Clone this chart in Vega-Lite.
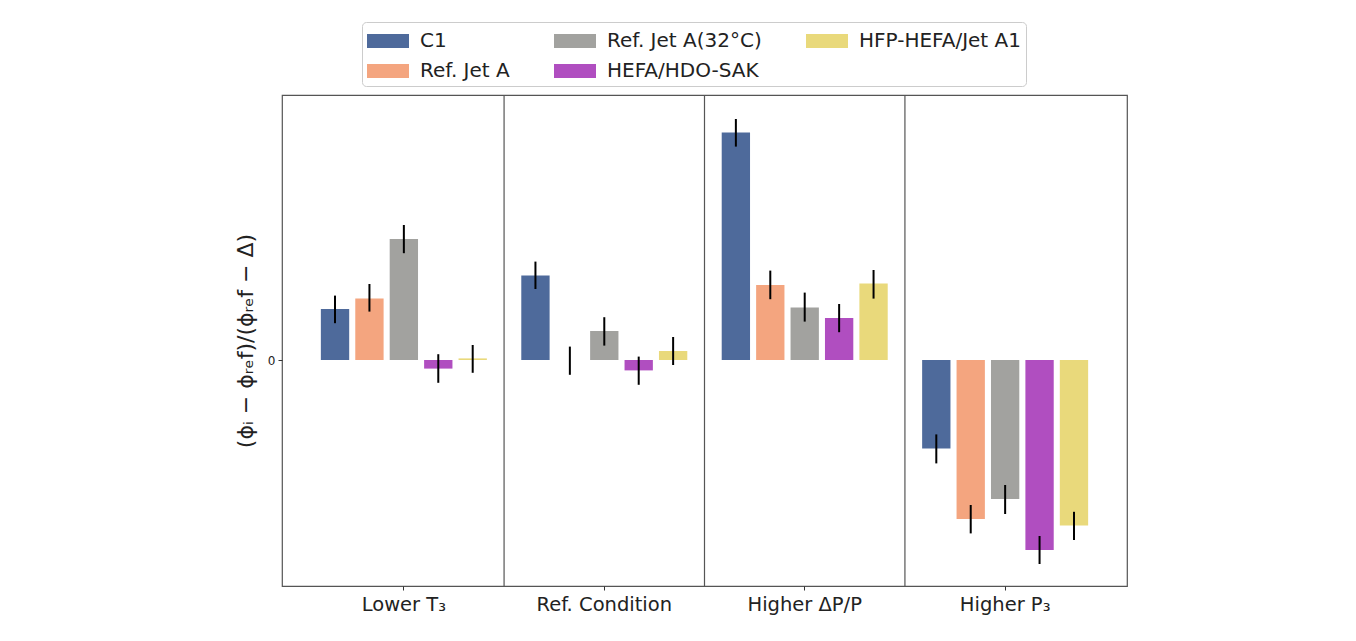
{
  "$schema": "https://vega.github.io/schema/vega-lite/v6.json",
  "autosize": {"type": "none"},
  "padding": {"left": 282, "top": 95, "right": 229, "bottom": 55},
  "width": 845,
  "height": 491,
  "background": "white",
  "config": {
    "font": "DejaVu Sans",
    "view": {"stroke": "#555555", "strokeWidth": 1.2},
    "axis": {"grid": false, "domain": false, "labelColor": "#222222", "titleColor": "#222222", "tickColor": "#333333"}
  },
  "data": {
    "values": [
      {"group": "Lower T₃", "series": "C1", "value": 0.255, "lo": 0.184, "hi": 0.322},
      {"group": "Lower T₃", "series": "Ref. Jet A", "value": 0.308, "lo": 0.242, "hi": 0.38},
      {"group": "Lower T₃", "series": "Ref. Jet A(32°C)", "value": 0.605, "lo": 0.534, "hi": 0.675},
      {"group": "Lower T₃", "series": "HEFA/HDO-SAK", "value": -0.043, "lo": -0.114, "hi": 0.029},
      {"group": "Lower T₃", "series": "HFP-HEFA/Jet A1", "value": 0.008, "lo": -0.064, "hi": 0.075},
      {"group": "Ref. Condition", "series": "C1", "value": 0.423, "lo": 0.355, "hi": 0.492},
      {"group": "Ref. Condition", "series": "Ref. Jet A", "value": 0.0, "lo": -0.074, "hi": 0.067},
      {"group": "Ref. Condition", "series": "Ref. Jet A(32°C)", "value": 0.145, "lo": 0.072, "hi": 0.214},
      {"group": "Ref. Condition", "series": "HEFA/HDO-SAK", "value": -0.052, "lo": -0.124, "hi": 0.017},
      {"group": "Ref. Condition", "series": "HFP-HEFA/Jet A1", "value": 0.045, "lo": -0.025, "hi": 0.115},
      {"group": "Higher ΔP/P", "series": "C1", "value": 1.138, "lo": 1.067, "hi": 1.205},
      {"group": "Higher ΔP/P", "series": "Ref. Jet A", "value": 0.375, "lo": 0.304, "hi": 0.447},
      {"group": "Higher ΔP/P", "series": "Ref. Jet A(32°C)", "value": 0.263, "lo": 0.192, "hi": 0.337},
      {"group": "Higher ΔP/P", "series": "HEFA/HDO-SAK", "value": 0.21, "lo": 0.139, "hi": 0.28},
      {"group": "Higher ΔP/P", "series": "HFP-HEFA/Jet A1", "value": 0.382, "lo": 0.307, "hi": 0.45},
      {"group": "Higher P₃", "series": "C1", "value": -0.442, "lo": -0.517, "hi": -0.372},
      {"group": "Higher P₃", "series": "Ref. Jet A", "value": -0.795, "lo": -0.867, "hi": -0.725},
      {"group": "Higher P₃", "series": "Ref. Jet A(32°C)", "value": -0.695, "lo": -0.77, "hi": -0.625},
      {"group": "Higher P₃", "series": "HEFA/HDO-SAK", "value": -0.95, "lo": -1.02, "hi": -0.88},
      {"group": "Higher P₃", "series": "HFP-HEFA/Jet A1", "value": -0.827, "lo": -0.9, "hi": -0.759}
    ]
  },
  "encoding": {
    "x": {
      "field": "group", "type": "nominal",
      "scale": {"domain": ["Lower T₃", "Ref. Condition", "Higher ΔP/P", "Higher P₃"], "paddingInner": 0, "paddingOuter": 0.108},
      "axis": {"title": null, "labelAngle": 0, "labelFontSize": 19.5, "labelPadding": 5, "tickSize": 4, "tickWidth": 1}
    }
  },
  "layer": [
    {
      "transform": [
        {"filter": "datum.series == 'C1' && datum.group != 'Higher P₃'"}
      ],
      "mark": {"type": "rule", "color": "#555555", "strokeWidth": 1.2},
      "encoding": {
        "x": {"field": "group", "type": "nominal", "bandPosition": 1}
      }
    },
    {
      "mark": {"type": "bar"},
      "encoding": {
        "xOffset": {
          "field": "series", "type": "nominal",
          "scale": {"domain": ["C1", "Ref. Jet A", "Ref. Jet A(32°C)", "HEFA/HDO-SAK", "HFP-HEFA/Jet A1"], "paddingInner": 0.177, "paddingOuter": 0.5}
        },
        "y": {
          "field": "value", "type": "quantitative",
          "scale": {"domain": [-1.13, 1.325], "nice": false, "zero": true},
          "axis": {"values": [0], "format": ".0f", "labelFontSize": 12, "tickSize": 4, "labelPadding": 3, "title": "(ϕᵢ − ϕᵣₑf)/(ϕᵣₑf − Δ)", "titleFontSize": 22, "titleFontWeight": "normal", "titlePadding": 10}
        },
        "color": {
          "field": "series", "type": "nominal",
          "scale": {
            "domain": ["C1", "Ref. Jet A(32°C)", "HFP-HEFA/Jet A1", "Ref. Jet A", "HEFA/HDO-SAK"],
            "range": ["#4e6a9b", "#a2a29f", "#e9d97b", "#f4a57f", "#b04ec0"]
          },
          "legend": {
            "title": null,
            "orient": "none",
            "legendX": 80,
            "legendY": -73,
            "columns": 3,
            "direction": "horizontal",
            "labelFontSize": 20,
            "labelColor": "#222222",
            "labelLimit": 300,
            "symbolType": "M-1,-0.5H2V0.5H-1Z",
            "symbolSize": 784,
            "symbolStrokeWidth": 0,
            "symbolOpacity": 1,
            "labelOffset": 25,
            "columnPadding": 44,
            "rowPadding": 6,
            "padding": 5,
            "strokeColor": "#cccccc",
            "cornerRadius": 4,
            "fillColor": "white"
          }
        }
      }
    },
    {
      "mark": {"type": "rule", "color": "black", "strokeWidth": 2},
      "encoding": {
        "xOffset": {"field": "series", "type": "nominal"},
        "y": {"field": "lo", "type": "quantitative"},
        "y2": {"field": "hi"}
      }
    }
  ]
}
